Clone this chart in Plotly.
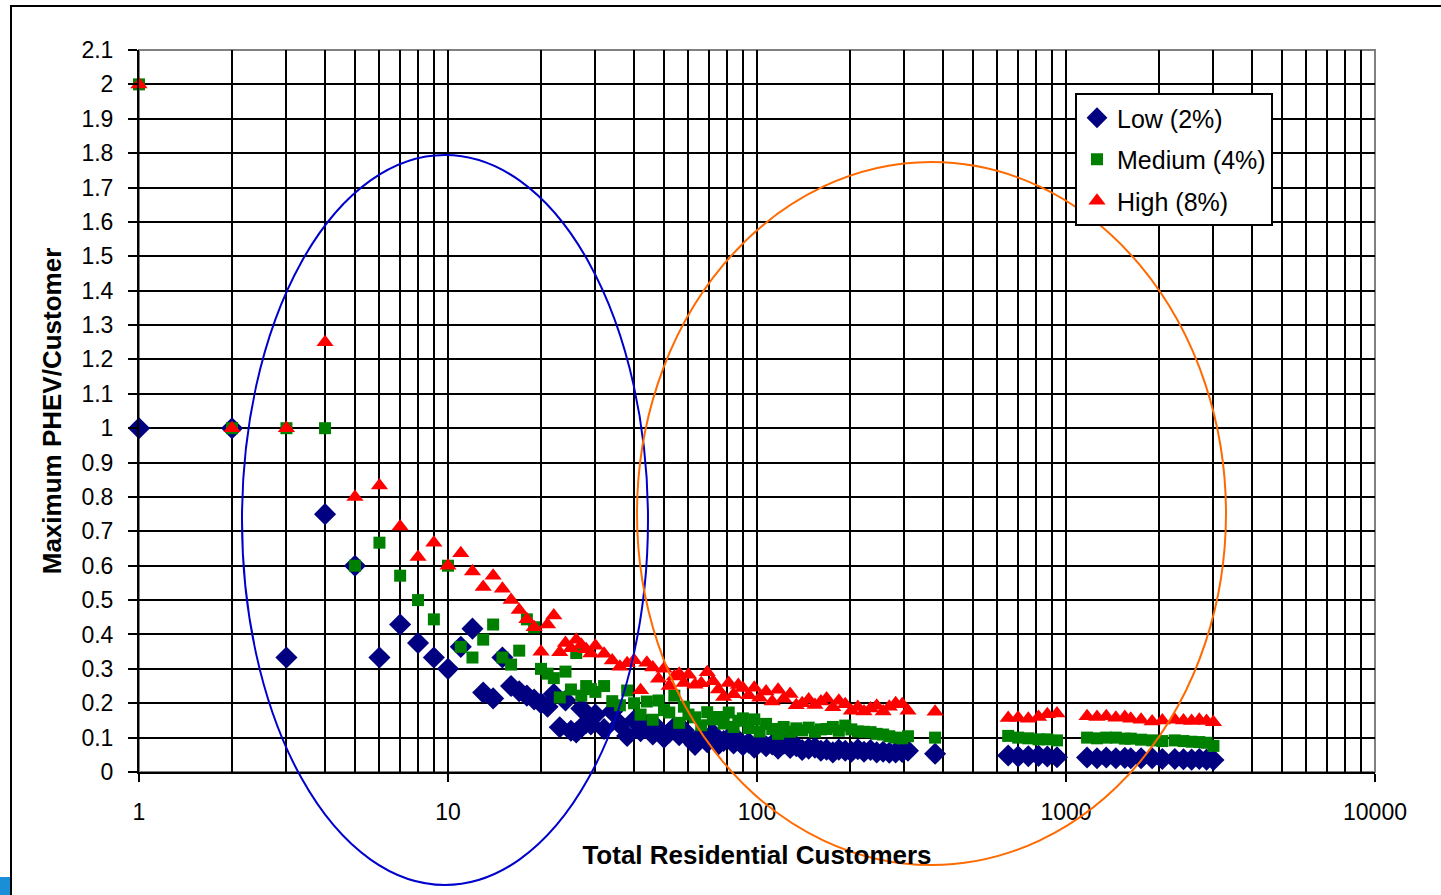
import plotly.graph_objects as go

customers = [1, 2, 3, 4, 5, 6, 7, 8, 9, 10, 11, 12, 13, 14, 15, 16, 17, 18, 19, 20,
             21, 22, 23, 24, 25, 26, 27, 28, 29, 30,
             32, 34, 36, 38, 40, 42, 44, 46, 48, 50, 52, 54, 56, 58, 60, 63, 66, 69, 72, 75,
             78, 81, 84, 87, 90, 94, 98,
             102, 107, 112, 117, 122, 128, 134, 140, 147, 154, 161, 168, 176, 184, 193, 202,
             212, 222, 233, 244, 256, 268, 281, 295, 308,
             377,
             650, 700, 755, 815, 870, 935,
             1170, 1260, 1350, 1450, 1550, 1620,
             1750, 1900, 2050,
             2250, 2400, 2550, 2700, 2850, 3000]

low = [1.0, 1.0, 0.333, 0.75, 0.6, 0.333, 0.429, 0.375, 0.333, 0.3, 0.364, 0.417, 0.231, 0.214, 0.333, 0.25, 0.235, 0.222, 0.211, 0.2,
       0.19, 0.227, 0.13, 0.208, 0.12, 0.115, 0.185, 0.143, 0.138, 0.167,
       0.125, 0.176, 0.139, 0.105, 0.15, 0.119, 0.136, 0.109, 0.125, 0.1, 0.115, 0.13, 0.107, 0.121, 0.1, 0.079, 0.106, 0.087, 0.111, 0.08,
       0.09, 0.099, 0.083, 0.092, 0.078, 0.085, 0.071,
       0.088, 0.075, 0.08, 0.068, 0.082, 0.07, 0.075, 0.064, 0.068, 0.071, 0.062, 0.065, 0.057, 0.065, 0.062, 0.059,
       0.066, 0.059, 0.064, 0.057, 0.059, 0.056, 0.057, 0.058, 0.062,
       0.053,
       0.048, 0.045, 0.046, 0.047, 0.045, 0.043,
       0.042, 0.04, 0.042, 0.04, 0.041, 0.04,
       0.04, 0.04, 0.038,
       0.038, 0.037, 0.036, 0.038, 0.036, 0.035]

medium = [2.0, 1.0, 1.0, 1.0, 0.6, 0.667, 0.571, 0.5, 0.444, 0.6, 0.364, 0.333, 0.385, 0.429, 0.333, 0.3125, 0.353, 0.444, 0.421, 0.3,
          0.286, 0.273, 0.217, 0.292, 0.24, 0.346, 0.222, 0.25, 0.241, 0.233,
          0.25, 0.206, 0.194, 0.237, 0.2, 0.167, 0.205, 0.152, 0.208, 0.18, 0.173, 0.222, 0.143, 0.19, 0.167, 0.159, 0.136, 0.174, 0.153, 0.16,
          0.141, 0.173, 0.131, 0.149, 0.156, 0.128, 0.153,
          0.118, 0.14, 0.125, 0.111, 0.131, 0.117, 0.127, 0.121, 0.129, 0.117, 0.124, 0.125, 0.131, 0.12, 0.135, 0.124,
          0.118, 0.117, 0.116, 0.111, 0.109, 0.104, 0.1, 0.098, 0.104,
          0.1,
          0.105, 0.1, 0.098, 0.095, 0.095, 0.092,
          0.1, 0.098, 0.1, 0.1, 0.097, 0.097,
          0.094, 0.092, 0.09,
          0.092, 0.09, 0.088, 0.087, 0.085, 0.076]

high = [2.0, 1.0, 1.0, 1.25, 0.8, 0.833, 0.714, 0.625, 0.667, 0.6, 0.636, 0.583, 0.538, 0.571, 0.533, 0.5, 0.471, 0.444, 0.421, 0.35,
        0.429, 0.455, 0.348, 0.375, 0.36, 0.385, 0.37, 0.357, 0.345, 0.367,
        0.344, 0.324, 0.306, 0.316, 0.325, 0.238, 0.318, 0.304, 0.271, 0.3, 0.25, 0.278, 0.286, 0.259, 0.283, 0.254, 0.258, 0.29, 0.264, 0.24,
        0.218, 0.259, 0.226, 0.253, 0.244, 0.223, 0.245,
        0.216, 0.234, 0.205, 0.239, 0.213, 0.227, 0.194, 0.2, 0.211, 0.195, 0.205, 0.214, 0.188, 0.207, 0.197, 0.178,
        0.189, 0.176, 0.185, 0.193, 0.176, 0.19, 0.2, 0.197, 0.178,
        0.175,
        0.157, 0.158, 0.155, 0.16, 0.168, 0.17,
        0.162, 0.16, 0.162, 0.158, 0.16, 0.155,
        0.152, 0.147, 0.15,
        0.152, 0.15, 0.148, 0.152, 0.148, 0.145]

series_names = ["Low (2%)", "Medium (4%)", "High (8%)"]
x_major = [1, 10, 100, 1000, 10000]
x_major_labels = ["1", "10", "100", "1000", "10000"]
x_minor = [m * d for d in [1, 10, 100, 1000] for m in range(2, 10)]

FONT = "Liberation Sans, Arial, sans-serif"

fig = go.Figure()
fig.add_trace(go.Scatter(x=customers, y=low, mode="markers", name=series_names[0], legendgroup="a",
                         cliponaxis=False,
                         marker=dict(symbol="diamond", size=17, color="#000080", line=dict(width=0))))
fig.add_trace(go.Scatter(x=customers, y=medium, mode="markers", name=series_names[1], legendgroup="b",
                         cliponaxis=False,
                         marker=dict(symbol="square", size=12, color="#008000", line=dict(width=0))))
fig.add_trace(go.Scatter(x=customers, y=high, mode="markers", name=series_names[2], legendgroup="c",
                         cliponaxis=False,
                         marker=dict(symbol="triangle-up", size=15, color="#FF0000", line=dict(width=0))))

L, T, R, B = 139, 50, 66, 123
W, H = 1441, 895
pw, ph = W - L - R, H - T - B

def px(xp):
    return (xp - L) / pw

def py(yp):
    return (H - B - yp) / ph

shapes = [
    dict(type="rect", xref="paper", yref="paper", x0=0, x1=1, y0=0, y1=1,
         line=dict(color="#808080", width=2), layer="below"),
    dict(type="rect", xref="paper", yref="paper", x0=px(11), x1=px(1450), y0=py(6), y1=py(905),
         line=dict(color="black", width=2)),
    dict(type="circle", xref="paper", yref="paper", x0=px(242), x1=px(648), y0=py(885), y1=py(155),
         line=dict(color="#0000CC", width=2)),
    dict(type="circle", xref="paper", yref="paper", x0=px(637), x1=px(1226), y0=py(865), y1=py(162),
         line=dict(color="#FF6A00", width=2)),
    dict(type="rect", xref="paper", yref="paper", x0=px(0), x1=px(10), y0=py(895), y1=py(877),
         line=dict(width=0), fillcolor="#1A8FD8"),
]

fig.update_layout(
    width=W, height=H,
    margin=dict(l=L, r=R, t=T, b=B, pad=0),
    paper_bgcolor="white", plot_bgcolor="white",
    font=dict(family=FONT, size=23, color="black"),
    showlegend=True,
    legend=dict(x=px(1075), y=py(93), xanchor="left", yanchor="top",
                bgcolor="white", bordercolor="black", borderwidth=2,
                font=dict(family=FONT, size=25, color="black"),
                traceorder="grouped", tracegroupgap=6, itemwidth=30),
    shapes=shapes,
)

fig.update_xaxes(
    type="log", range=[0, 4],
    tickmode="array", tickvals=x_major, ticktext=x_major_labels,
    ticks="outside", ticklen=8, tickwidth=2, tickcolor="black",
    ticklabelstandoff=10,
    showgrid=True, gridcolor="black", gridwidth=2,
    minor=dict(tickvals=x_minor, showgrid=True, gridcolor="black", gridwidth=2, ticks=""),
    showline=True, linecolor="black", linewidth=2,
    zeroline=False,
    tickfont=dict(family=FONT, size=23),
    title=dict(text="<b>Total Residential Customers</b>", font=dict(family=FONT, size=26), standoff=22),
)
fig.update_yaxes(
    range=[0, 2.1], dtick=0.1, tick0=0,
    ticks="outside", ticklen=9, tickwidth=2, tickcolor="black",
    ticklabelstandoff=10,
    showgrid=True, gridcolor="black", gridwidth=2,
    showline=True, linecolor="black", linewidth=2,
    zeroline=False,
    tickfont=dict(family=FONT, size=23),
    title=dict(text="<b>Maximum PHEV/Customer</b>", font=dict(family=FONT, size=26), standoff=12),
)

fig.write_html("out.html")
